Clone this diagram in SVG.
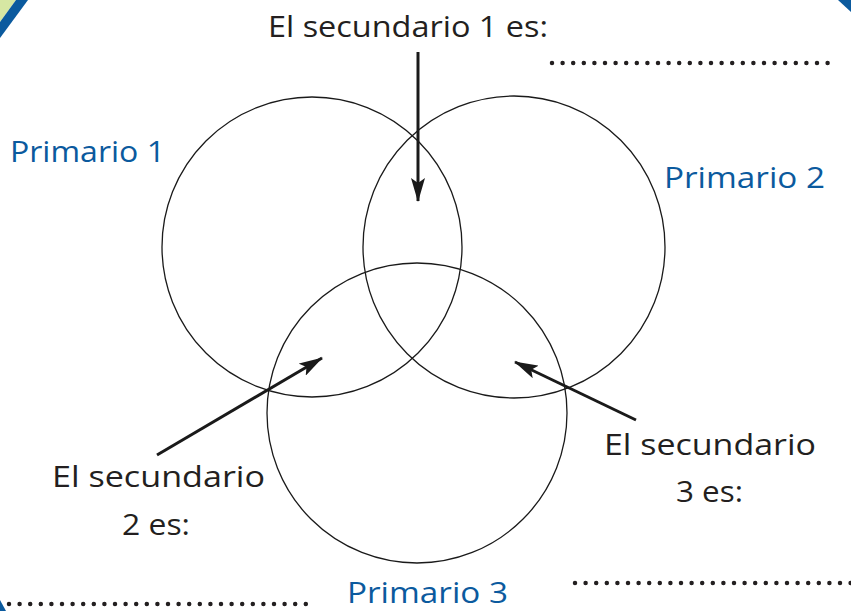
<svg xmlns="http://www.w3.org/2000/svg" width="851" height="611" viewBox="0 0 851 611">
<style>
.c{fill:none;stroke:#1a1a1a;stroke-width:1.3}
.t{font-family:"Open Sans","Liberation Sans",sans-serif;font-size:30px;fill:#231f20}
.p{font-family:"Open Sans","Liberation Sans",sans-serif;font-size:30px;fill:#0b5a9e}
.a{stroke:#1a1a1a;stroke-width:3;fill:none}
.d{stroke:#231f20;stroke-width:4.5;stroke-linecap:round;stroke-dasharray:0 10.6;fill:none}
</style>
<defs>
<marker id="ah" viewBox="0 0 24 14" refX="23" refY="7" markerWidth="24" markerHeight="14" markerUnits="userSpaceOnUse" orient="auto">
<path d="M0,0 L24,7 L0,14 L5,7 Z" fill="#1a1a1a"/>
</marker>
</defs>
<g id="frame">
<polygon points="0,0 16,0 0,22" fill="#d6e7a3"/>
<polygon points="16,0 28,0 0,38 0,22" fill="#0b5a9e"/>
<polygon points="838,0 851,0 851,12" fill="#0b5a9e"/>
<polygon points="0,600 6,611 0,611" fill="#0b5a9e"/>
</g>
<g id="circle1"><circle class="c" cx="312" cy="247" r="150"/></g>
<g id="circle2"><circle class="c" cx="514" cy="247" r="151"/></g>
<g id="circle3"><circle class="c" cx="417" cy="413" r="150"/></g>
<g id="connectors">
<line class="a" x1="418" y1="52" x2="418" y2="201" marker-end="url(#ah)"/>
<line class="a" x1="157" y1="455" x2="322" y2="358" marker-end="url(#ah)"/>
<line class="a" x1="636" y1="420" x2="515" y2="362" marker-end="url(#ah)"/>
</g>
<g id="dots">
<line class="d" x1="552" y1="63" x2="832" y2="63"/>
<line class="d" x1="9" y1="604" x2="306" y2="604"/>
<line class="d" x1="575" y1="583" x2="851" y2="583"/>
</g>
<g id="label-sec1"><text class="t" x="268" y="37" textLength="280" lengthAdjust="spacingAndGlyphs">El secundario 1 es:</text></g>
<g id="label-p1"><text class="p" x="10" y="162" textLength="155" lengthAdjust="spacingAndGlyphs">Primario 1</text></g>
<g id="label-p2"><text class="p" x="664" y="188" textLength="161" lengthAdjust="spacingAndGlyphs">Primario 2</text></g>
<g id="label-p3"><text class="p" x="347" y="603" textLength="161" lengthAdjust="spacingAndGlyphs">Primario 3</text></g>
<g id="label-sec2">
<text class="t" x="52" y="487" textLength="213" lengthAdjust="spacingAndGlyphs">El secundario</text>
<text class="t" x="122" y="535" textLength="68" lengthAdjust="spacingAndGlyphs">2 es:</text>
</g>
<g id="label-sec3">
<text class="t" x="604" y="455" textLength="212" lengthAdjust="spacingAndGlyphs">El secundario</text>
<text class="t" x="676" y="502" textLength="67" lengthAdjust="spacingAndGlyphs">3 es:</text>
</g>
</svg>
